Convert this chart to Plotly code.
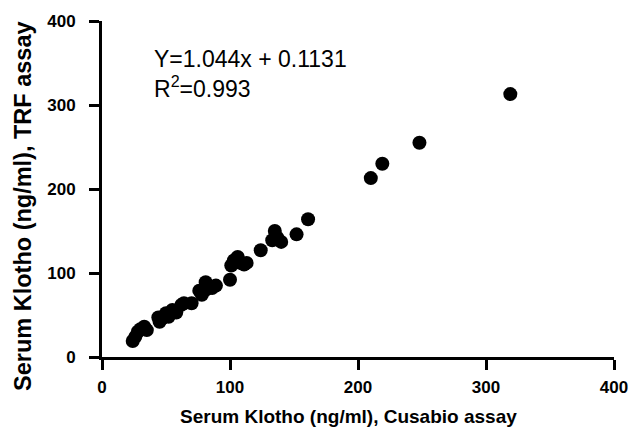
import plotly.graph_objects as go

# Data
cusabio = [24, 26, 28, 30, 33, 35, 44, 45, 47, 50, 52, 55, 58, 62, 64, 70, 76, 78, 81, 81,
           86, 89, 100, 101, 103, 106, 108, 111, 113, 124, 133, 135, 137, 140, 152, 161,
           210, 219, 248, 319]
trf = [19, 24, 30, 33, 36, 32, 47, 42, 46, 52, 48, 56, 53, 62, 64, 64, 79, 74, 89, 80,
       82, 85, 92, 109, 115, 119, 112, 110, 112, 127, 139, 150, 142, 137, 146, 164,
       213, 230, 255, 313]
tick_vals = [0, 100, 200, 300, 400]
tick_text = ["0", "100", "200", "300", "400"]
equation = "Y=1.044x + 0.1131"
r_squared = "R<sup>2</sup>=0.993"
x_title = "Serum Klotho (ng/ml), Cusabio assay"
y_title = "Serum Klotho (ng/ml), TRF assay"

FONT = "Liberation Sans, Arial, sans-serif"

fig = go.Figure()
fig.add_trace(go.Scatter(
    x=cusabio, y=trf, mode="markers",
    marker=dict(color="black", size=14, line=dict(width=0)),
    showlegend=False, cliponaxis=False, hoverinfo="skip",
))

axis_common = dict(
    range=[0, 400], tickvals=tick_vals, ticktext=tick_text,
    showline=True, linecolor="black", linewidth=3,
    ticks="outside", ticklen=10, tickwidth=3, tickcolor="black",
    showgrid=False, zeroline=False, mirror=False, fixedrange=True,
    tickfont=dict(family=FONT, size=17, color="black", weight="bold"),
)
fig.update_xaxes(**axis_common, ticklabelstandoff=3)
fig.update_yaxes(**axis_common, ticklabelstandoff=10)

fig.add_annotation(x=39, y=355, xref="x", yref="y", text=equation, showarrow=False,
                   xanchor="left", yanchor="middle",
                   font=dict(family=FONT, size=23, color="black"))
fig.add_annotation(x=39, y=321, xref="x", yref="y", text=r_squared, showarrow=False,
                   xanchor="left", yanchor="middle",
                   font=dict(family=FONT, size=23, color="black"))

fig.add_annotation(x=0.482, y=-0.176, xref="paper", yref="paper", text=x_title,
                   showarrow=False, xanchor="center", yanchor="middle",
                   font=dict(family=FONT, size=19, color="black", weight="bold"))
fig.add_annotation(x=-0.154, y=0.45, xref="paper", yref="paper", text=y_title,
                   showarrow=False, xanchor="center", yanchor="middle", textangle=-90,
                   font=dict(family=FONT, size=23.5, color="black", weight="bold"))

fig.update_layout(
    width=640, height=429,
    margin=dict(l=102, r=26, t=19, b=72),
    paper_bgcolor="white", plot_bgcolor="white",
    hovermode=False,
)

fig.write_html(
    "out.html",
    config={"displayModeBar": False, "staticPlot": True},
    post_script="document.body.style.margin='0';document.body.style.padding='0';"
                "document.body.style.overflow='hidden';",
)
